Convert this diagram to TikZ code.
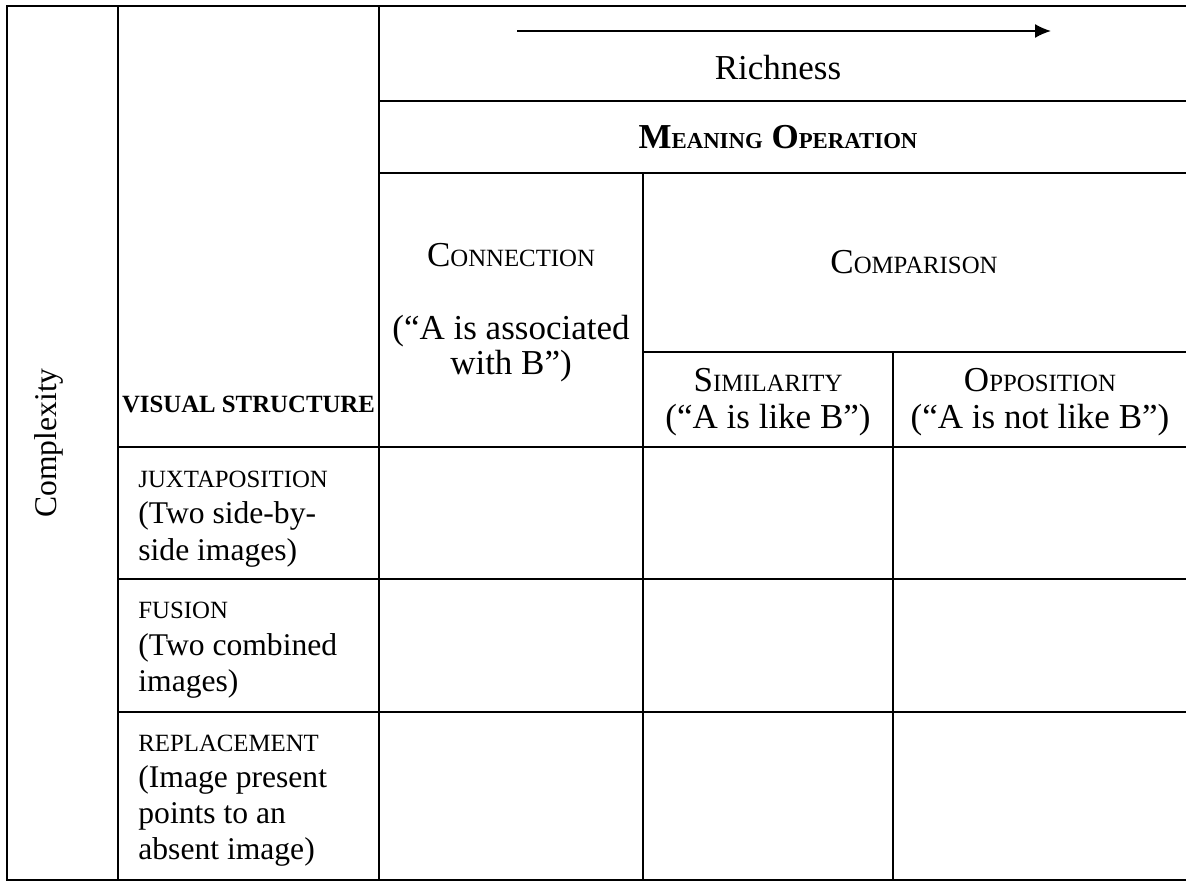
\documentclass[tikz,border=0pt]{standalone}
\usepackage{fontspec}
\setmainfont{Liberation Serif}
\usetikzlibrary{arrows.meta}
\newcommand\hdrfont{\fontsize{17.5}{21}\selectfont}
\newcommand\hscfont{\fontsize{12.4}{15}\selectfont}
\newcommand\hbscfont{\fontsize{11.4}{14}\selectfont}
\newcommand\rowfont{\fontsize{15.8}{19}\selectfont}
\newcommand\rscfont{\fontsize{12.4}{15}\selectfont}
\tikzset{
  grid/.style={line width=1.4pt, line cap=rect},
  hdr/.style={anchor=base, inner sep=0pt, font=\hdrfont},
  rowlbl/.style={anchor=base west, inner sep=0pt, font=\rowfont},
  rowcap/.style={anchor=base west, inner sep=0pt, font=\rscfont},
}
\begin{document}
\begin{tikzpicture}[x=0.5pt, y=-0.5pt]
\useasboundingbox (0,0) rectangle (1186,881);
\fill[white] (0,0) rectangle (1186,881);
% grid lines
\draw[grid] (7,6) -- (1195,6);
\draw[grid] (379,101) -- (1195,101);
\draw[grid] (379,173) -- (1195,173);
\draw[grid] (643,352) -- (1195,352);
\draw[grid] (118,447) -- (1195,447);
\draw[grid] (118,579) -- (1195,579);
\draw[grid] (118,712) -- (1195,712);
\draw[grid] (7,880) -- (1195,880);
\draw[grid] (7,6) -- (7,880);
\draw[grid] (118,6) -- (118,880);
\draw[grid] (379,6) -- (379,880);
\draw[grid] (643,173) -- (643,880);
\draw[grid] (893,352) -- (893,880);
% richness arrow
\coordinate (arrS) at (517,31);
\coordinate (arrE) at (1051,31);
\draw[line width=0.85pt, -{Latex[length=8pt,width=7pt]}] (arrS) -- (arrE);
\node[hdr] (rich) at (778,80) {Richness};
\node[hdr, font=\hdrfont\bfseries] (meaning) at (778,149) {M{\hbscfont\bfseries EANING} O{\hbscfont\bfseries PERATION}};
% connection
\node[hdr] (conn) at (511,267) {C{\hscfont ONNECTION}};
\node[hdr] (conn1) at (511,340) {(“A is associated};
\node[hdr] (conn2) at (511,375) {with B”)};
% comparison
\node[hdr] (comp) at (914,274) {C{\hscfont OMPARISON}};
\node[hdr] (sim) at (768,392) {S{\hscfont IMILARITY}};
\node[hdr] (sim1) at (768,428) {(“A is like B”)};
\node[hdr] (opp) at (1040,392) {O{\hscfont PPOSITION}};
\node[hdr] (opp1) at (1040,428) {(“A is not like B”)};
% visual structure
\node[anchor=base, inner sep=0pt, font=\rscfont\bfseries] (vis) at (248.5,412) {VISUAL STRUCTURE};
% complexity
\node[anchor=base, inner sep=0pt, font=\rowfont, rotate=90] (cplx) at (56,443) {Complexity};
% rows
\node[rowcap] (jux) at (138,487) {JUXTAPOSITION};
\node[rowlbl] (jux1) at (138,523) {(Two side-by-};
\node[rowlbl] (jux2) at (138,560) {side images)};
\node[rowcap] (fus) at (138,618) {FUSION};
\node[rowlbl] (fus1) at (138,655) {(Two combined};
\node[rowlbl] (fus2) at (138,691) {images)};
\node[rowcap] (rep) at (138,751) {REPLACEMENT};
\node[rowlbl] (rep1) at (138,787) {(Image present};
\node[rowlbl] (rep2) at (138,823) {points to an};
\node[rowlbl] (rep3) at (138,859) {absent image)};
\end{tikzpicture}
\end{document}
